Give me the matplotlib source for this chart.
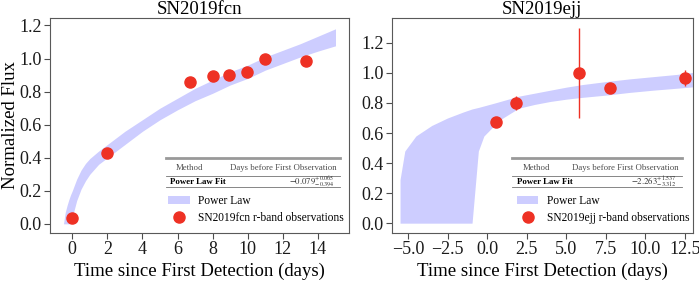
import numpy as np
import matplotlib
matplotlib.use("Agg")
import matplotlib.pyplot as plt
from matplotlib.patches import Patch
from matplotlib.lines import Line2D

plt.rcParams['font.family'] = ['Liberation Serif', 'DejaVu Serif']
plt.rcParams['mathtext.fontset'] = 'stix'

# --- SN2019fcn ---
fcn_t = [0.0, 2.0, 6.7, 8.0, 8.95, 9.95, 11.0, 13.3]
fcn_flux = [0.035, 0.43, 0.857, 0.895, 0.903, 0.918, 0.998, 0.984]
fcn_band_t = [-0.5, -0.4, -0.3, -0.2, -0.1, 0.0, 0.25, 0.5, 0.75, 1.0, 1.5, 2.0,
              3.0, 4.0, 5.0, 6.0, 7.0, 8.0, 9.0, 10.0, 11.0, 12.0, 13.0, 14.0, 15.0]
fcn_band_lo = [0.0, 0.0, 0.0, 0.0, 0.0, 0.04, 0.14, 0.21, 0.26, 0.30, 0.36, 0.40,
               0.48, 0.56, 0.63, 0.69, 0.745, 0.79, 0.84, 0.88, 0.93, 0.97, 1.01, 1.045, 1.077]
fcn_band_hi = [0.0, 0.07, 0.11, 0.145, 0.175, 0.20, 0.27, 0.325, 0.365, 0.395, 0.44, 0.48,
               0.56, 0.63, 0.70, 0.76, 0.82, 0.87, 0.92, 0.96, 1.01, 1.05, 1.09, 1.135, 1.18]

# --- SN2019ejj ---
ejj_t = [0.55, 1.85, 5.8, 7.8, 12.5]
ejj_flux = [0.67, 0.80, 1.0, 0.90, 0.965]
ejj_err = [0.02, 0.045, 0.30, 0.03, 0.055]
ejj_band_t = [-5.5, -5.2, -4.5, -3.5, -2.5, -1.5, -0.95, -0.949, -0.55, -0.2, 0.5, 1.0,
              2.0, 3.0, 4.0, 5.0, 6.0, 7.5, 9.0, 10.5, 12.0, 13.0]
ejj_band_lo = [0.0, 0.0, 0.0, 0.0, 0.0, 0.0, 0.0, 0.0, 0.48, 0.58, 0.655, 0.70,
               0.765, 0.79, 0.81, 0.825, 0.837, 0.852, 0.870, 0.885, 0.898, 0.907]
ejj_band_hi = [0.29, 0.48, 0.58, 0.65, 0.70, 0.74, 0.76, 0.76, 0.77, 0.78, 0.80, 0.815,
               0.845, 0.865, 0.885, 0.905, 0.922, 0.942, 0.960, 0.975, 0.990, 1.003]

band_color = '#cdcdff'
pt_color = '#ee3124'
fs = 13.5


def table_and_legend(ax, x0, x1, hx, rx, cx1, cx2, val, name, lx):
    tr = ax.transAxes
    gray = '0.45'
    tfs = 6.3
    ax.plot([x0, x1], [0.350, 0.350], color='0.6', lw=2.0, transform=tr, clip_on=False)
    ax.plot([x0, x1], [0.266, 0.266], color=gray, lw=0.6, transform=tr, clip_on=False)
    ax.plot([x0, x1], [0.212, 0.212], color=gray, lw=0.6, transform=tr, clip_on=False)
    ax.text(cx1, 0.302, 'Method', fontsize=tfs, ha='center', va='center', transform=tr, color='0.3')
    ax.text(cx2, 0.302, 'Days before First Observation', fontsize=tfs, ha='center',
            va='center', transform=tr, color='0.3')
    ax.text(hx, 0.238, 'Power Law Fit', fontsize=tfs, fontweight='bold', ha='left',
            va='center', transform=tr)
    ax.text(rx, 0.238, val, fontsize=tfs, ha='right', va='center', transform=tr, color='0.2')
    handles = [Patch(facecolor=band_color, edgecolor='none'),
               Line2D([], [], ls='none', marker='o', ms=8, color=pt_color)]
    ax.legend(handles, ['Power Law', name + ' r-band observations'], loc='center left',
              bbox_to_anchor=(lx, 0.108), frameon=False, fontsize=8.3, borderpad=0,
              borderaxespad=0, handlelength=1.9, handletextpad=0.7, labelspacing=0.45)


fig = plt.figure(figsize=(6.99, 2.82), dpi=100)
ax1 = fig.add_axes([0.0715, 0.174, 0.4278, 0.762])
ax2 = fig.add_axes([0.561, 0.174, 0.430, 0.762])

ax1.fill_between(fcn_band_t, fcn_band_lo, fcn_band_hi, color=band_color, lw=0)
ax1.plot(fcn_t, fcn_flux, 'o', color=pt_color, ms=8)
ax1.set_xlim(-1.27, 15.77)
ax1.set_ylim(-0.055, 1.245)
ax1.set_xticks(np.arange(0, 15, 2))
ax1.set_yticks(np.arange(0, 1.21, 0.2))
ax1.set_title('SN2019fcn', fontsize=fs, pad=2)
ax1.set_xlabel('Time since First Detection (days)', fontsize=fs, labelpad=3)
ax1.set_ylabel('Normalized Flux', fontsize=fs)
ax1.yaxis.set_label_coords(-0.104, 0.5)
table_and_legend(ax1, 0.388, 0.970, 0.401, 0.953, 0.468, 0.779,
                 r'$-0.079^{+0.065}_{-0.394}$', 'SN2019fcn', 0.395)

ax2.fill_between(ejj_band_t, ejj_band_lo, ejj_band_hi, color=band_color, lw=0)
ax2.errorbar(ejj_t, ejj_flux, yerr=ejj_err, fmt='o', color=pt_color, ms=8, elinewidth=1)
ax2.set_xlim(-6.0, 13.0)
ax2.set_ylim(-0.065, 1.365)
ax2.set_xticks(np.arange(-5, 12.6, 2.5))
ax2.set_yticks(np.arange(0, 1.21, 0.2))
ax2.set_title('SN2019ejj', fontsize=fs, pad=2)
ax2.set_xlabel('Time since First Detection (days)', fontsize=fs, labelpad=3)
table_and_legend(ax2, 0.40, 0.964, 0.417, 0.947, 0.479, 0.777,
                 r'$-2.263^{+1.537}_{-3.312}$', 'SN2019ejj', 0.414)

for ax in (ax1, ax2):
    ax.tick_params(labelsize=13, length=4, width=0.8, color='0.3', pad=2)
    for s in ax.spines.values():
        s.set_color('0.35')
        s.set_linewidth(0.8)
    for lab in ax.get_xticklabels() + ax.get_yticklabels():
        lab.set_color('0.1')

fig.savefig('out.png', dpi=100)
